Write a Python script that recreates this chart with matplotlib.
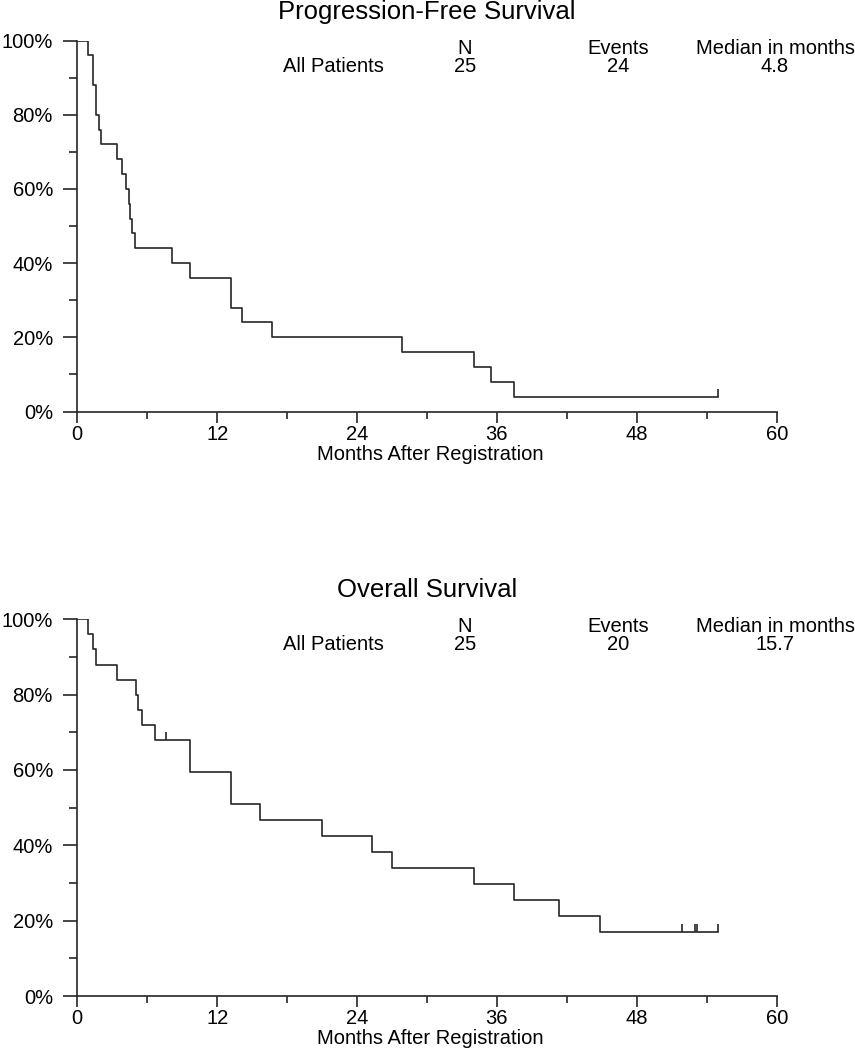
import matplotlib
matplotlib.use("Agg")
import matplotlib.pyplot as plt
from matplotlib.ticker import MultipleLocator, FuncFormatter

plt.rcParams['font.family'] = ['Liberation Sans', 'DejaVu Sans']

# ---------------------------------------------------------
# DATA
# ---------------------------------------------------------
# Progression-free survival: step times (months) and survival (%)
pfs_t = [0, 0.94, 1.34, 1.6, 1.83, 2.06, 3.43, 3.83, 4.17, 4.43, 4.51, 4.69, 4.97,
         8.09, 9.66, 13.17, 14.17, 16.71, 27.87, 34.03, 35.48, 37.44, 55.0]
pfs_s = [100, 96, 88, 80, 76, 72, 68, 64, 60, 56, 52, 48, 44,
         40, 36, 28, 24, 20, 16, 12, 8, 4, 4]
pfs_cens_t = [55.0]
pfs_cens_s = [4]

# Overall survival
os_t = [0, 0.94, 1.34, 1.6, 3.43, 5.03, 5.23, 5.54, 6.63, 9.66, 13.17, 15.71,
        21.03, 25.3, 26.97, 34.0, 37.43, 41.3, 44.86, 54.94]
os_s = [100, 96, 92, 88, 84, 80, 76, 72, 68, 59.5, 51.0, 46.75,
        42.5, 38.25, 34.0, 29.75, 25.5, 21.25, 17.0, 17.0]
os_cens_t = [7.6, 51.86, 53.03, 53.17, 54.94]
os_cens_s = [68, 17.0, 17.0, 17.0, 17.0]

# summary table
table_header = ['N', 'Events', 'Median in months']
pfs_row = ['All Patients', '25', '24', '4.8']
os_row = ['All Patients', '25', '20', '15.7']

W, H = 855, 1050
fig = plt.figure(figsize=(W / 100, H / 100), dpi=100)

LINE = '#262626'
TXT = 14.5


def px(x, y):
    # pixel position -> figure fraction
    return x / W, 1 - y / H


def km_panel(rect, t, s, ct, cs, title, row, title_y, xlab_y):
    ax = fig.add_axes(rect)
    ax.step(t, s, where='post', color=LINE, lw=1.2)
    ax.vlines(ct, cs, [v + 2.1 for v in cs], color=LINE, lw=1.2)

    ax.set_xlim(0, 60)
    ax.set_ylim(0, 100)
    for side in ['top', 'right']:
        ax.spines[side].set_visible(False)
    for side in ['left', 'bottom']:
        ax.spines[side].set_linewidth(1.2)
        ax.spines[side].set_color(LINE)

    ax.xaxis.set_major_locator(MultipleLocator(12))
    ax.xaxis.set_minor_locator(MultipleLocator(6))
    ax.yaxis.set_major_locator(MultipleLocator(20))
    ax.yaxis.set_minor_locator(MultipleLocator(10))
    ax.yaxis.set_major_formatter(FuncFormatter(lambda v, p: f'{v:.0f}%'))

    ax.tick_params(axis='y', which='major', length=10, width=1.2, color=LINE,
                   labelsize=TXT, pad=7.5)
    ax.tick_params(axis='y', which='minor', length=5.8, width=1.2, color=LINE)
    ax.tick_params(axis='x', which='major', length=8, width=1.2, color=LINE,
                   labelsize=TXT, pad=1.5)
    ax.tick_params(axis='x', which='minor', length=5, width=1.2, color=LINE)

    fig.text(*px(430, xlab_y), 'Months After Registration', ha='center',
             va='center', fontsize=TXT)

    # title and table
    fig.text(*px(427, title_y), title, ha='center', va='center', fontsize=18.5)
    col_x = [465, 618, 775]
    for cx, h in zip(col_x, table_header):
        fig.text(*px(cx, title_y + 37), h, ha='center', va='center', fontsize=TXT)
    for cx, v in zip([333] + col_x, row):
        fig.text(*px(cx, title_y + 55), v, ha='center', va='center', fontsize=TXT)
    return ax


# axes rectangles from pixel edges
x0, x1 = 77.3, 776.7
top_rect = [x0 / W, 1 - 411.5 / H, (x1 - x0) / W, (411.5 - 40.5) / H]
bot_rect = [x0 / W, 1 - 996 / H, (x1 - x0) / W, (996 - 619.3) / H]

km_panel(top_rect, pfs_t, pfs_s, pfs_cens_t, pfs_cens_s,
         'Progression-Free Survival', pfs_row, 12, 455)
km_panel(bot_rect, os_t, os_s, os_cens_t, os_cens_s,
         'Overall Survival', os_row, 590, 1038)

fig.savefig('out.png', dpi=100)
